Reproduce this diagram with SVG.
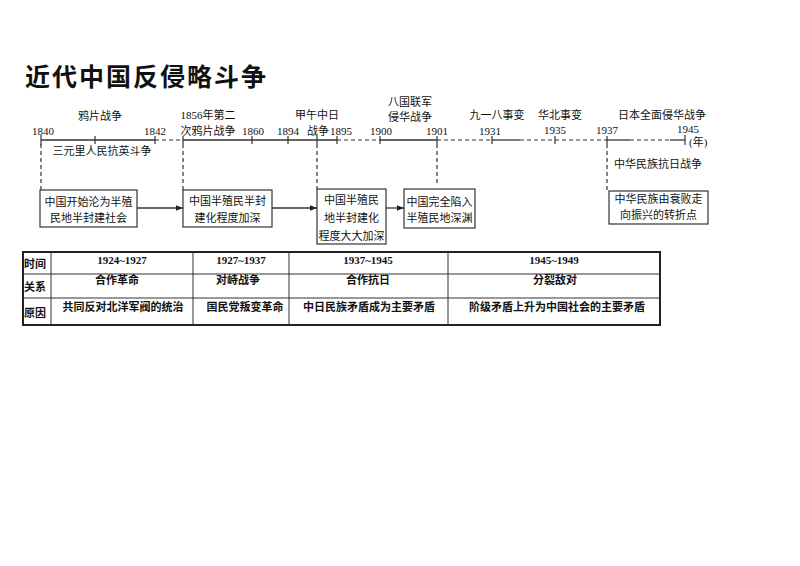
<svg xmlns="http://www.w3.org/2000/svg" width="800" height="566" viewBox="0 0 800 566">
<defs>
<marker id="arr" viewBox="0 0 10 10" refX="10" refY="5" markerWidth="7" markerHeight="7" orient="auto" markerUnits="userSpaceOnUse">
<path d="M0,1 L10,5 L0,9 z" fill="#222"/>
</marker>
<style>
.cn{font-family:"Noto Sans CJK SC","Noto Sans",sans-serif;font-size:11px;fill:#111;}
.yr{font-family:"Liberation Serif","Noto Sans CJK SC",serif;font-size:11px;fill:#111;}
.mid{text-anchor:middle;}
.b{font-weight:bold;}
.box{fill:#fff;stroke:#333;stroke-width:1.2;}
.ax{stroke:#333;stroke-width:1.3;fill:none;}
.dash{stroke:#333;stroke-width:1.2;stroke-dasharray:4 3;fill:none;}
.tk{stroke:#333;stroke-width:1.2;}
.grid{stroke:#333;stroke-width:1;fill:none;}
</style>
</defs>
<rect width="800" height="566" fill="#fff"/>
<text x="25" y="86" font-family="Noto Sans CJK SC,sans-serif" font-size="25" font-weight="bold" letter-spacing="2" fill="#111">近代中国反侵略斗争</text>

<g id="connectors">
<line class="ax" x1="41" y1="140" x2="155" y2="140"/>
<line class="dash" x1="155" y1="140" x2="183" y2="140"/>
<line class="ax" x1="183" y1="140" x2="337" y2="140"/>
<line class="dash" x1="337" y1="140" x2="380" y2="140"/>
<line class="ax" x1="380" y1="140" x2="437" y2="140"/>
<line class="dash" x1="437" y1="140" x2="492" y2="140"/>
<line class="ax" x1="492" y1="140" x2="520" y2="140"/>
<line class="dash" x1="520" y1="140" x2="607" y2="140"/>
<line class="ax" x1="607" y1="140" x2="630" y2="140"/>
<line class="dash" x1="630" y1="140" x2="670" y2="140"/>
<line class="ax" x1="670" y1="140" x2="685" y2="140"/>
<g class="tk">
<line x1="41" y1="135" x2="41" y2="145"/>
<line x1="95" y1="136" x2="95" y2="144"/>
<line x1="155" y1="136" x2="155" y2="144"/>
<line x1="183" y1="136" x2="183" y2="144"/>
<line x1="252" y1="136" x2="252" y2="144"/>
<line x1="288" y1="136" x2="288" y2="144"/>
<line x1="317" y1="136" x2="317" y2="144"/>
<line x1="337" y1="136" x2="337" y2="144"/>
<line x1="380" y1="136" x2="380" y2="144"/>
<line x1="437" y1="136" x2="437" y2="144"/>
<line x1="492" y1="136" x2="492" y2="144"/>
<line x1="555" y1="136" x2="555" y2="144"/>
<line x1="607" y1="136" x2="607" y2="144"/>
<line x1="685" y1="135" x2="685" y2="145"/>
</g>
<line class="dash" x1="41" y1="144" x2="41" y2="190"/>
<line class="dash" x1="183" y1="144" x2="183" y2="190"/>
<line class="dash" x1="317" y1="144" x2="317" y2="189"/>
<line class="dash" x1="437" y1="144" x2="437" y2="184"/>
<line class="dash" x1="607" y1="144" x2="607" y2="191"/>
<line class="ax" x1="137" y1="208" x2="183" y2="208" marker-end="url(#arr)"/>
<line class="ax" x1="272" y1="208" x2="317" y2="208" marker-end="url(#arr)"/>
<line class="ax" x1="386" y1="208" x2="404" y2="208" marker-end="url(#arr)"/>
</g>

<g id="axis-labels">
<text class="cn mid" x="100" y="120">鸦片战争</text>
<text class="yr mid" x="43" y="135">1840</text>
<text class="yr mid" x="155" y="135">1842</text>
<text class="yr mid" x="208" y="119">1856年第二</text>
<text class="cn mid" x="208" y="135">次鸦片战争</text>
<text class="yr mid" x="253" y="135">1860</text>
<text class="yr mid" x="288" y="135">1894</text>
<text class="cn mid" x="317" y="119">甲午中日</text>
<text class="cn" x="307" y="135">战争</text>
<text class="yr" x="330" y="135">1895</text>
<text class="yr mid" x="381" y="135">1900</text>
<text class="cn mid" x="410" y="106">八国联军</text>
<text class="cn mid" x="410" y="121">侵华战争</text>
<text class="yr mid" x="437" y="135">1901</text>
<text class="cn mid" x="497" y="119">九一八事变</text>
<text class="yr mid" x="490" y="135">1931</text>
<text class="cn mid" x="560" y="119">华北事变</text>
<text class="yr mid" x="555" y="134">1935</text>
<text class="yr mid" x="607" y="134">1937</text>
<text class="cn mid" x="662" y="119">日本全面侵华战争</text>
<text class="yr mid" x="688" y="133">1945</text>
<text class="yr" x="689" y="146">(年)</text>
<text class="cn mid" x="102" y="155">三元里人民抗英斗争</text>
<text class="cn mid" x="658" y="168">中华民族抗日战争</text>
</g>

<g id="node1">
<rect class="box" x="40" y="190" width="97" height="37"/>
<text class="cn mid" x="88.5" y="206">中国开始沦为半殖</text>
<text class="cn mid" x="88.5" y="222">民地半封建社会</text>
</g>
<g id="node2">
<rect class="box" x="183" y="190" width="89" height="37"/>
<text class="cn mid" x="227.5" y="205">中国半殖民半封</text>
<text class="cn mid" x="227.5" y="222">建化程度加深</text>
</g>
<g id="node3">
<rect class="box" x="317" y="189" width="69" height="55"/>
<text class="cn mid" x="351.5" y="204">中国半殖民</text>
<text class="cn mid" x="351.5" y="222">地半封建化</text>
<text class="cn mid" x="351.5" y="240">程度大大加深</text>
</g>
<g id="node4">
<rect class="box" x="404" y="189" width="71" height="39"/>
<text class="cn mid" x="439.5" y="206">中国完全陷入</text>
<text class="cn mid" x="439.5" y="222">半殖民地深渊</text>
</g>
<g id="node5">
<rect class="box" x="609" y="191" width="99" height="33"/>
<text class="cn mid" x="658.5" y="203" font-size="10.5">中华民族由衰败走</text>
<text class="cn mid" x="658.5" y="219" font-size="10.5">向振兴的转折点</text>
</g>

<g id="table">
<rect x="23" y="252" width="637" height="73" fill="#fff" stroke="#222" stroke-width="2"/>
<line class="grid" x1="23" y1="274" x2="660" y2="274"/>
<line class="grid" x1="23" y1="298" x2="660" y2="298"/>
<line class="grid" x1="51" y1="252" x2="51" y2="325"/>
<line class="grid" x1="193" y1="252" x2="193" y2="325"/>
<line class="grid" x1="289" y1="252" x2="289" y2="325"/>
<line class="grid" x1="448" y1="252" x2="448" y2="325"/>
<text class="cn b" x="24" y="268">时间</text>
<text class="cn b" x="24" y="291">关系</text>
<text class="cn b" x="24" y="317">原因</text>
<text class="yr b mid" x="122" y="264">1924~1927</text>
<text class="yr b mid" x="241" y="264">1927~1937</text>
<text class="yr b mid" x="368" y="264">1937~1945</text>
<text class="yr b mid" x="554" y="264">1945~1949</text>
<text class="cn b mid" x="117" y="284">合作革命</text>
<text class="cn b mid" x="238" y="284">对峙战争</text>
<text class="cn b mid" x="368" y="284">合作抗日</text>
<text class="cn b mid" x="555" y="284">分裂敌对</text>
<text class="cn b mid" x="123" y="311">共同反对北洋军阀的统治</text>
<text class="cn b mid" x="245" y="311">国民党叛变革命</text>
<text class="cn b mid" x="369" y="311">中日民族矛盾成为主要矛盾</text>
<text class="cn b mid" x="557" y="311">阶级矛盾上升为中国社会的主要矛盾</text>
</g>
</svg>
